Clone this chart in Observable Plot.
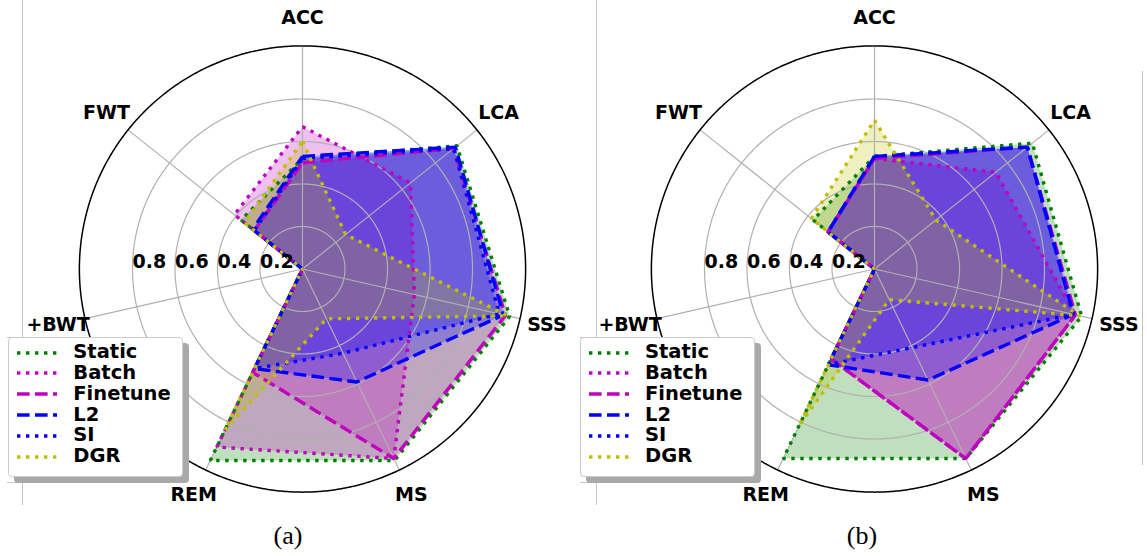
<!DOCTYPE html>
<html>
<head>
<meta charset="utf-8">
<script src="https://cdn.jsdelivr.net/npm/d3@7"></script>
<script src="https://cdn.jsdelivr.net/npm/@observablehq/plot@0.6"></script>
<style>
  html, body { margin: 0; padding: 0; background: #fff; }
  #root { position: relative; width: 1147px; height: 556px; overflow: hidden; background: #fff; }
  .panel { position: absolute; top: 0; }
  .rule { position: absolute; background: #c4c4c4; }
  .legend { position: absolute; background: #fff; border: 1px solid #cccccc; border-radius: 4px;
            box-shadow: 6px 6px 0 #a9a9a9; box-sizing: border-box; }
  .legend .lab { position: absolute; font: bold 19.5px "DejaVu Sans", sans-serif; line-height: 20.8px; color: #000; white-space: nowrap; }
  .legend svg { position: absolute; overflow: visible; }
  .caption { position: absolute; font: 26px "Liberation Serif", "Times New Roman", serif; line-height: 26px; transform: translateX(-50%); color: #000; }
</style>
</head>
<body>
<div id="root"></div>
<script>
// ---------- data ----------
const axes = ["ACC", "LCA", "SSS", "MS", "REM", "+BWT", "FWT"];
const seriesNames = ["Static", "Batch", "Finetune", "L2", "SI", "DGR"];

// panel (a)
const staticA   = [0.52, 0.93, 1.00, 1.00, 1.00, 0.00, 0.37];
const batchA    = [0.67, 0.65, 0.54, 0.99, 0.93, 0.00, 0.41];
const finetuneA = [0.50, 0.91, 0.98, 0.99, 0.54, 0.00, 0.29];
const l2A       = [0.53, 0.92, 0.97, 0.59, 0.52, 0.00, 0.30];
const siA       = [0.52, 0.91, 0.95, 0.44, 0.52, 0.00, 0.29];
const dgrA      = [0.60, 0.26, 0.99, 0.26, 0.84, 0.00, 0.35];

// panel (b)
const staticB   = [0.53, 0.95, 1.00, 0.99, 0.99, 0.00, 0.37];
const batchB    = [0.52, 0.73, 0.97, 0.99, 0.47, 0.00, 0.28];
const finetuneB = [0.52, 0.92, 0.97, 0.99, 0.47, 0.00, 0.28];
const l2B       = [0.53, 0.92, 0.96, 0.58, 0.50, 0.00, 0.28];
const siB       = [0.53, 0.92, 0.96, 0.41, 0.50, 0.00, 0.28];
const dgrB      = [0.70, 0.37, 0.99, 0.16, 0.82, 0.00, 0.38];

const ringTicks  = [0.2, 0.4, 0.6, 0.8];
const ringLabels = ["0.2", "0.4", "0.6", "0.8"];
const captions   = ["(a)", "(b)"];

// ---------- styles ----------
const seriesColor = ["#008000", "#bf00bf", "#bf00bf", "#0000ff", "#0000ff", "#bfbf00"];
const DOT = "3.4,5.6", DASH = "12.6,5.4";
const seriesDash = [DOT, DOT, DASH, DASH, DOT, DOT];
const LW = 3.4;

const R_OUT = 1.05, R_LAB = 1.18, PX = 212.5;
const CX = 302, CY = 268.5, H = 556;
const lon = i => 180 - i * 360 / axes.length;
const circle = r => d3.geoCircle().center([0, 90]).radius(r).precision(0.5)();
const labelFont = "DejaVu Sans";

function radar(values, width) {
  const rpx = R_OUT * PX;
  const marks = [];
  // fills
  values.forEach((vals, s) => {
    const pts = axes.map((a, i) => ({lon: lon(i), lat: 90 - vals[i]}));
    pts.push(pts[0]);
    marks.push(Plot.line(pts, {x: "lon", y: "lat", fill: seriesColor[s], fillOpacity: 0.25, stroke: "none"}));
  });
  // grid
  marks.push(Plot.geo(ringTicks, {geometry: r => circle(r), stroke: "#b0b0b0", strokeWidth: 1.2, fill: "none"}));
  marks.push(Plot.link(axes, {x1: (d, i) => lon(i), y1: 90 - R_OUT, x2: (d, i) => lon(i), y2: 90, stroke: "#b0b0b0", strokeWidth: 1.2}));
  marks.push(Plot.geo([R_OUT], {geometry: r => circle(r), stroke: "#000", strokeWidth: 1.5, fill: "none"}));
  // lines
  values.forEach((vals, s) => {
    const pts = axes.map((a, i) => ({lon: lon(i), lat: 90 - vals[i]}));
    pts.push(pts[0]);
    marks.push(Plot.line(pts, {x: "lon", y: "lat", stroke: seriesColor[s], strokeWidth: LW, strokeDasharray: seriesDash[s], fill: "none", strokeLinecap: "butt", strokeLinejoin: "miter"}));
  });
  // ring labels
  marks.push(Plot.text(ringTicks, {x: -90, y: r => 90 - r, text: (r, i) => ringLabels[i], textAnchor: "start", dy: -7,
    fontSize: 19, fontWeight: "bold", fontFamily: labelFont, fill: "#000"}));
  // axis labels
  marks.push(Plot.text(axes, {x: (d, i) => lon(i), y: 90 - R_LAB, text: d => d,
    fontSize: 19, fontWeight: "bold", fontFamily: labelFont, fill: "#000"}));

  return Plot.plot({
    width, height: H,
    marginLeft: CX - rpx, marginRight: width - CX - rpx,
    marginTop: CY - rpx, marginBottom: H - CY - rpx,
    projection: {type: "azimuthal-equidistant", rotate: [0, -90], domain: circle(R_OUT), clip: false},
    style: {background: "transparent", overflow: "visible"},
    marks
  });
}

const root = document.getElementById("root");
const panels = [
  {left: 0, width: 572, values: [staticA, batchA, finetuneA, l2A, siA, dgrA]},
  {left: 572, width: 575, values: [staticB, batchB, finetuneB, l2B, siB, dgrB]}
];

panels.forEach((p, k) => {
  const div = document.createElement("div");
  div.className = "panel";
  div.style.left = p.left + "px";
  div.style.width = p.width + "px";
  div.appendChild(radar(p.values, p.width));
  root.appendChild(div);

  const off = p.left;
  // faint frame rules
  const mk = (l, t, w, h) => { const r = document.createElement("div"); r.className = "rule";
    Object.assign(r.style, {left: l + "px", top: t + "px", width: w + "px", height: h + "px"}); root.appendChild(r); };
  mk(off + 21.5 + (k ? 2.5 : 0), 0, 1, 505);
  mk(off + 7 + (k ? 1 : 0), 336.5, 15, 1);
  mk(off + 7 + (k ? 1 : 0), 481.5, 15, 1);

  // legend
  const box = document.createElement("div");
  box.className = "legend";
  Object.assign(box.style, {left: (off + 8.3 + (k ? -0.3 : 0)) + "px", top: "336.7px", width: "175px", height: "140px"});
  seriesNames.forEach((name, s) => {
    const cy = 15 + s * 20.8;
    const svg = d3.create("svg").attr("width", 40).attr("height", 8)
      .style("left", "8px").style("top", (cy - 4) + "px");
    svg.append("line").attr("x1", 0).attr("x2", 40).attr("y1", 4).attr("y2", 4)
      .attr("stroke", seriesColor[s]).attr("stroke-width", LW).attr("stroke-dasharray", seriesDash[s]);
    box.appendChild(svg.node());
    const lab = document.createElement("div");
    lab.className = "lab";
    lab.textContent = name;
    Object.assign(lab.style, {left: "64px", top: (cy - 10.4) + "px"});
    box.appendChild(lab);
  });
  root.appendChild(box);

  // caption
  const cap = document.createElement("div");
  cap.className = "caption";
  cap.textContent = captions[k];
  Object.assign(cap.style, {left: (k ? 862 : 288) + "px", top: "523px"});
  root.appendChild(cap);
});
// right-hand faint rule of panel (b)
(() => { const r = document.createElement("div"); r.className = "rule";
  Object.assign(r.style, {left: "1141.5px", top: "71px", width: "1px", height: "394px"}); root.appendChild(r); })();
</script>
</body>
</html>
